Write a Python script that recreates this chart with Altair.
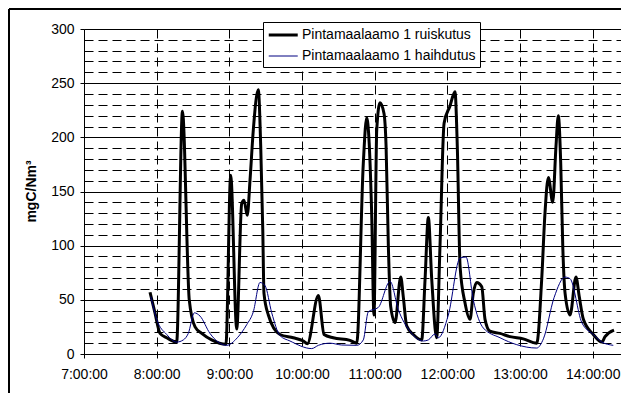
import altair as alt
import pandas as pd

series_names = ["Pintamaalaamo 1 ruiskutus", "Pintamaalaamo 1 haihdutus"]
series_colors = ["#000000", "#000080"]
series_widths = [3, 1]

times_ruiskutus = [
    "07:54:30", "07:58:36", "08:02:48", "08:08:18", "08:16:30", "08:21:18", "08:26:54",
    "08:31:42", "08:37:12", "08:45:24", "08:57:12", "09:01:06", "09:06:06", "09:10:12",
    "09:12:06", "09:14:48", "09:17:06", "09:19:48", "09:23:54", "09:25:54", "09:27:36",
    "09:28:36", "09:32:12", "09:41:48", "09:52:48", "10:01:06", "10:04:24", "10:13:30",
    "10:18:12", "10:25:48", "10:39:36", "10:45:12", "10:50:36", "10:53:24", "10:57:30",
    "10:59:24", "11:01:42", "11:04:24", "11:07:42", "11:09:24", "11:11:18", "11:13:12",
    "11:16:48", "11:21:30", "11:23:36", "11:26:24", "11:31:54", "11:38:48", "11:41:36",
    "11:44:18", "11:47:06", "11:51:12", "11:53:54", "11:57:18", "12:02:12", "12:06:18",
    "12:08:12", "12:10:30", "12:14:36", "12:18:42", "12:21:24", "12:24:12", "12:28:24",
    "12:31:06", "12:35:12", "12:43:30", "12:51:42", "13:02:42", "13:13:48", "13:17:54",
    "13:20:36", "13:23:24", "13:27:00", "13:29:42", "13:31:36", "13:33:36", "13:35:18",
    "13:37:12", "13:41:18", "13:46:12", "13:48:54", "13:52:18", "14:00:30", "14:07:30",
    "14:10:12", "14:17:36",
]
values_ruiskutus = [
    57, 38, 19, 15, 11, 224, 50,
    25, 19, 13, 9, 165, 23, 139,
    142, 128, 161, 207, 244, 192, 115,
    56, 36, 18, 15, 12, 9.5, 54,
    18, 15, 12.6, 10, 176, 218, 130,
    36, 207, 232, 222, 192, 99, 44,
    29, 71, 53, 26, 18, 13, 69,
    126, 69, 15, 99, 213, 229, 242,
    192, 81, 47, 32, 56, 66, 62,
    32, 21, 19, 16, 14, 10, 69,
    130, 163, 140, 192, 220, 176, 99,
    56, 36, 71, 53, 32, 18, 11,
    16, 22,
]

times_haihdutus = [
    "07:55:06", "08:00:00", "08:08:18", "08:16:30", "08:22:00", "08:26:06", "08:31:06",
    "08:35:48", "08:44:00", "08:57:48", "09:06:36", "09:14:18", "09:19:48", "09:25:18",
    "09:29:30", "09:35:00", "09:41:48", "09:50:06", "10:08:00", "10:13:30", "10:23:06",
    "10:32:48", "10:45:12", "10:50:36", "10:54:42", "11:03:00", "11:12:42", "11:19:30",
    "11:29:12", "11:40:12", "11:44:18", "11:49:48", "11:52:30", "12:00:48", "12:10:30",
    "12:15:24", "12:21:24", "12:29:42", "12:43:30", "12:57:18", "13:13:48", "13:19:18",
    "13:28:06", "13:37:12", "13:41:18", "13:51:00", "14:00:30", "14:07:30", "14:17:00",
]
values_haihdutus = [
    53, 32, 18, 11, 13, 19, 38,
    35, 19, 8, 15, 27, 39, 66,
    63, 38, 17, 12, 5, 8, 10,
    8.3, 8, 13, 39, 43, 67, 41,
    21, 12, 13, 18.5, 15, 36, 88.6,
    89.5, 50, 24, 15, 8.6, 5.5, 14,
    52, 71, 69.5, 29, 18, 11, 8,
]

hour_ticks = [7, 8, 9, 10, 11, 12, 13, 14]
y_ticks = list(range(0, 301, 10))

rows = []
for t, v in zip(times_ruiskutus, values_ruiskutus):
    rows.append({"t": "2000-01-01T" + t, "v": v, "s": series_names[0]})
for t, v in zip(times_haihdutus, values_haihdutus):
    rows.append({"t": "2000-01-01T" + t, "v": v, "s": series_names[1]})
df = pd.DataFrame(rows)

FONT = "Liberation Sans"
W, H = 537, 325

x_enc = alt.X(
    "t:T",
    scale=alt.Scale(domain=[alt.DateTime(year=2000, month=1, date=1, hours=7),
                            alt.DateTime(year=2000, month=1, date=1, hours=14,
                                         minutes=23, seconds=22)]),
    axis=alt.Axis(
        values=[alt.DateTime(year=2000, month=1, date=1, hours=h) for h in hour_ticks],
        format="%-H:%M:%S", title=None, grid=True, gridDash=[9, 5], gridColor="#000000",
        gridWidth=1, domainColor="#000000", tickColor="#000000", tickSize=4,
        labelPadding=9, labelFont=FONT, labelFontSize=14, labelColor="#000000",
        labelFlush=False, labelOverlap=False,
    ),
)
y_enc = alt.Y(
    "v:Q",
    scale=alt.Scale(domain=[0, 300], nice=False),
    axis=alt.Axis(
        values=y_ticks,
        labelExpr="datum.value % 50 === 0 ? datum.label : ''",
        grid=True,
        gridDash={"condition": {"test": "datum.value % 50 === 0", "value": []}, "value": [9, 5]},
        tickOpacity={"condition": {"test": "datum.value % 50 === 0", "value": 1}, "value": 0},
        gridColor="#000000", gridWidth=1, domainColor="#000000", tickColor="#000000",
        tickSize=4, labelPadding=6, labelFont=FONT, labelFontSize=14, labelColor="#000000",
        labelOverlap=False, labelFlush=False,
        title="mgC/Nm³", titleFont=FONT, titleFontSize=14, titleFontWeight="bold",
        titleColor="#000000", titleAngle=270, titleX=-46, titleY=162,
        titleAlign="center", titleBaseline="bottom",
    ),
)

def make_legend():
    return alt.Legend(
        title=None, orient="none", legendX=179, legendY=-7,
        symbolType="M-1,0H3", symbolSize=210,
        labelFont=FONT, labelFontSize=14, labelColor="#000000", labelOffset=17,
        labelLimit=400,
        strokeColor="#000000", fillColor="#ffffff", padding=4, rowPadding=6,
    )

lines = alt.Chart(df).mark_line(interpolate="monotone").encode(
    x=x_enc,
    y=y_enc,
    color=alt.Color(
        "s:N",
        scale=alt.Scale(domain=series_names, range=series_colors),
        legend=make_legend(),
    ),
    strokeWidth=alt.StrokeWidth(
        "s:N", scale=alt.Scale(domain=series_names, range=series_widths),
        legend=make_legend(),
    ),
    order=alt.Order("t:T"),
)

frame_df = pd.DataFrame({"k": [0]})
frame_left = alt.Chart(frame_df).mark_rule(color="#000000", strokeWidth=2).encode(
    x=alt.value(-75), y=alt.value(-20), y2=alt.value(H + 39)
)
frame_top = alt.Chart(frame_df).mark_rule(color="#000000", strokeWidth=2).encode(
    x=alt.value(-75), x2=alt.value(W), y=alt.value(-20)
)

chart = alt.layer(lines, frame_left, frame_top).properties(
    width=W, height=H,
    autosize=alt.AutoSizeParams(type="none"),
    padding={"left": 76, "top": 21, "right": 0, "bottom": 39},
    background="#ffffff",
).configure_view(stroke=None)

chart.save("out.html", embed_options={"renderer": "svg", "actions": False})
